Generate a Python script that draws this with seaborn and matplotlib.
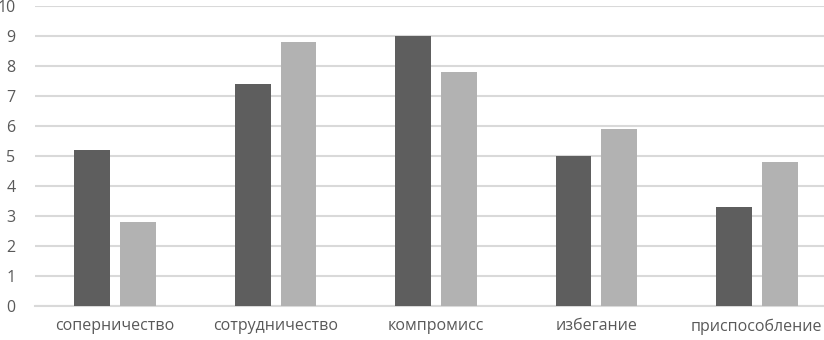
import matplotlib
matplotlib.use("Agg")
import matplotlib.pyplot as plt
import pandas as pd
import seaborn as sns

categories = ["соперничество", "сотрудничество", "компромисс", "избегание", "приспособление"]
series_names = ["Ряд 1", "Ряд 2"]
values_dark = [5.2, 7.4, 9.0, 5.0, 3.3]
values_light = [2.8, 8.8, 7.8, 5.9, 4.8]
y_ticks = list(range(0, 11))

sns.set_style("white")
plt.rcParams['font.family'] = ['Open Sans', 'DejaVu Sans']

df = pd.DataFrame({
    "category": categories * 2,
    "series": [series_names[0]] * len(categories) + [series_names[1]] * len(categories),
    "value": values_dark + values_light,
})

fig = plt.figure(figsize=(8.24, 3.4), dpi=100)
# plot area runs past the right edge, as in the cropped original
ax = fig.add_axes([35 / 824, 34 / 340, 802 / 824, 300 / 340])

sns.barplot(data=df, x="category", y="value", hue="series",
            palette=["#5e5e5e", "#b2b2b2"], width=0.572, gap=0.217,
            linewidth=0, legend=False, ax=ax, zorder=3)

ax.set_ylim(0, 10)
ax.set_xlim(-0.5, len(categories) - 0.5)
ax.set_yticks(y_ticks)
ax.yaxis.grid(True, color="#d9d9d9", linewidth=1.5, zorder=0)
ax.set_axisbelow(True)
for side in ["top", "right", "left"]:
    ax.spines[side].set_visible(False)
ax.spines["bottom"].set_color("#d9d9d9")
ax.spines["bottom"].set_linewidth(1.5)
ax.tick_params(axis="both", length=0, colors="#595959", labelsize=11.5)
ax.tick_params(axis="y", pad=14)
ax.tick_params(axis="x", pad=9)
ax.set_xlabel("")
ax.set_ylabel("")

fig.savefig("out.png", dpi=100)
